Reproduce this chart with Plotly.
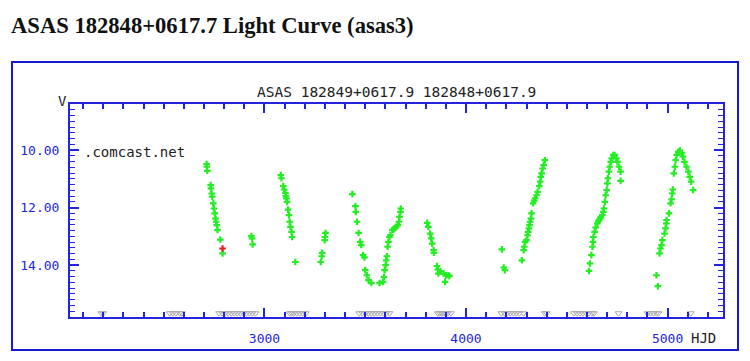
import plotly.graph_objects as go

# ---- data (HJD - 2450000, V mag) ----
good_hjd = [2713, 2714, 2716, 2733, 2734, 2738, 2741, 2746, 2749, 2753, 2757, 2760, 2763, 2767, 2781, 2792,
            2935, 2938, 2941,
            3081, 3084, 3093, 3098, 3104, 3106, 3109, 3112, 3117, 3122, 3125, 3129, 3134, 3137, 3153,
            3303, 3300, 3299, 3286, 3284, 3279,
            3436, 3451, 3453, 3459, 3467, 3475, 3480, 3489, 3496, 3500, 3508, 3516, 3530,
            3571, 3588, 3593, 3596, 3601, 3604, 3607, 3611, 3615, 3620, 3625, 3634, 3640, 3645, 3653, 3662, 3667,
            3670, 3675, 3676,
            3807, 3813, 3822, 3827, 3832, 3839, 3841, 3856, 3860, 3863, 3873, 3889, 3901, 3912, 3917, 3896,
            4178, 4187, 4193,
            4277, 4286, 4289, 4293, 4300, 4305, 4308, 4312, 4315, 4318, 4322, 4325, 4333, 4338, 4343, 4350, 4355,
            4363, 4368, 4371, 4375, 4380, 4385, 4391,
            4610, 4615, 4622, 4627, 4630, 4632, 4638, 4643, 4652, 4657, 4663, 4668, 4676, 4681, 4684, 4689, 4693,
            4698, 4701, 4704, 4709, 4713, 4718, 4723, 4731, 4737, 4746, 4751, 4759, 4767, 4767,
            4945, 4952,
            4960, 4965, 4970, 4974, 4985, 4990, 4994, 4995, 5007, 5015, 5020, 5023, 5026, 5031, 5036, 5040, 5045,
            5053, 5061, 5069, 5076, 5084, 5094, 5103, 5110, 5117, 5127]
good_mag = [10.49, 10.58, 10.72, 11.22, 11.33, 11.51, 11.62, 11.85, 12.03, 12.20, 12.38, 12.49, 12.61, 12.78, 13.11, 13.59,
            12.99, 13.07, 13.28,
            10.87, 10.98, 11.25, 11.37, 11.49, 11.60, 11.68, 11.80, 12.07, 12.26, 12.49, 12.67, 12.84, 13.02, 13.89,
            12.88, 13.02, 13.13, 13.57, 13.69, 13.89,
            11.53, 11.95, 12.15, 12.49, 12.88, 13.19, 13.30, 13.65, 13.73, 14.17, 14.35, 14.52, 14.62,
            14.62, 14.58, 14.41, 14.17, 14.00, 13.83, 13.69, 13.36, 13.19, 13.02, 12.96, 12.78, 12.76, 12.72, 12.67,
            12.61, 12.49, 12.32, 12.15, 12.03,
            12.53, 12.67, 12.90, 13.07, 13.25, 13.48, 13.57, 14.03, 14.15, 14.29, 14.21, 14.29, 14.35, 14.35, 14.38, 14.58,
            13.45, 14.08, 14.17,
            13.83, 13.48, 13.36, 13.19, 13.13, 12.96, 12.84, 12.72, 12.61, 12.49, 12.38, 12.20, 11.85, 11.76, 11.68,
            11.57, 11.45, 11.25, 11.10, 10.93, 10.81, 10.64, 10.52, 10.35,
            14.20, 13.94, 13.65, 13.36, 13.19, 13.02, 12.84, 12.69, 12.55, 12.46, 12.41, 12.34, 12.26, 12.15, 12.03,
            11.80, 11.57, 11.39, 11.16, 10.98, 10.75, 10.58, 10.41, 10.29, 10.17, 10.17, 10.29, 10.41, 10.58, 10.75, 11.07,
            14.35, 14.73,
            13.59, 13.42, 13.30, 13.13, 12.90, 12.72, 12.55, 12.43, 12.20, 11.85, 11.71, 11.51, 11.37, 10.81, 10.58,
            10.35, 10.17, 10.06, 10.02, 10.11, 10.23, 10.41, 10.58, 10.75, 10.93, 11.10, 11.39]

bad_hjd = [2792]
bad_mag = [13.42]

limit_hjd = [2190, 2200, 2530, 2545, 2560, 2580, 2590,
             2775, 2790, 2805, 2820, 2835, 2850, 2865, 2880, 2895, 2910, 2925, 2940, 2955,
             3125, 3135, 3145, 3160, 3175, 3190, 3205,
             3470, 3485, 3500, 3515, 3530, 3545, 3560, 3575, 3590, 3605, 3620,
             3860, 3870, 3880, 3890, 3900, 3910, 3925,
             4175, 4190, 4205, 4220, 4235, 4250, 4265, 4285,
             4390, 4400,
             4535, 4550, 4565, 4580, 4595, 4610, 4625, 4635,
             4757,
             4900, 4915, 4930, 4945, 4955,
             5115]
limit_mag = [15.67, 15.67, 15.67, 15.67, 15.67, 15.67, 15.67,
             15.67, 15.67, 15.67, 15.67, 15.67, 15.67, 15.67, 15.67, 15.67, 15.67, 15.67, 15.67, 15.67,
             15.67, 15.67, 15.67, 15.67, 15.67, 15.67, 15.67,
             15.67, 15.67, 15.67, 15.67, 15.67, 15.67, 15.67, 15.67, 15.67, 15.67, 15.67,
             15.67, 15.67, 15.67, 15.67, 15.67, 15.67, 15.67,
             15.67, 15.67, 15.67, 15.67, 15.67, 15.67, 15.67, 15.67,
             15.67, 15.67,
             15.67, 15.67, 15.67, 15.67, 15.67, 15.67, 15.67, 15.67,
             15.67,
             15.67, 15.67, 15.67, 15.67, 15.67,
             15.67]

x_ticks = [3000, 4000, 5000]
y_ticks = [10, 12, 14]

BLUE = "#2424e0"
MONO = "DejaVu Sans Mono"

fig = go.Figure()
fig.add_trace(go.Scatter(x=limit_hjd, y=limit_mag, mode="markers",
                         marker=dict(symbol="triangle-down-open", size=6, color="#a8a8a8",
                                     line=dict(width=1, color="#a8a8a8")),
                         hoverinfo="skip"))
fig.add_trace(go.Scatter(x=good_hjd, y=good_mag, mode="markers",
                         marker=dict(symbol="cross", size=5.5, color="#22ee22", line=dict(width=0))))
fig.add_trace(go.Scatter(x=bad_hjd, y=bad_mag, mode="markers",
                         marker=dict(symbol="cross", size=5.5, color="#e82020", line=dict(width=0))))

OFF = 8  # page body margin
W, H = 742, 353
# plot area in page pixels: left 70, right 723, top 104, bottom 317
L = 70 - OFF
T = 104 - OFF
R = W - (723 - OFF)
B = H - (317 - OFF)
pw, ph = W - L - R, H - T - B

def px(xp):
    return (xp - OFF - L) / pw

def py(yp):
    return (H - B - (yp - OFF)) / ph

fig.update_layout(
    width=W, height=H,
    margin=dict(l=L, r=R, t=T, b=B, pad=0),
    paper_bgcolor="white", plot_bgcolor="white",
    showlegend=False,
    xaxis=dict(range=[2035, 5275], tickvals=x_ticks, ticktext=[str(v) for v in x_ticks],
               ticks="inside", ticklen=9, tickwidth=2, tickcolor=BLUE,
               minor=dict(dtick=100, tick0=0, ticks="inside", ticklen=5, tickwidth=1.5, tickcolor=BLUE),
               showline=True, linecolor=BLUE, linewidth=2, mirror="ticks",
               showgrid=False, zeroline=False, ticklabelstandoff=8,
               tickfont=dict(family=MONO, size=13, color=BLUE)),
    yaxis=dict(range=[15.8, 8.4], tickvals=y_ticks, ticktext=["%.2f" % v for v in y_ticks],
               ticks="inside", ticklen=9, tickwidth=2, tickcolor=BLUE,
               minor=dict(dtick=0.2, tick0=0, ticks="inside", ticklen=5, tickwidth=1, tickcolor=BLUE),
               showline=True, linecolor=BLUE, linewidth=2, mirror="ticks",
               showgrid=False, zeroline=False, ticklabelstandoff=6,
               tickfont=dict(family=MONO, size=13, color=BLUE)),
    shapes=[dict(type="rect", xref="paper", yref="paper",
                 x0=px(12), x1=px(738), y0=py(350), y1=py(62),
                 line=dict(color="#1818d8", width=2), fillcolor="rgba(0,0,0,0)", layer="below")],
    annotations=[
        dict(text="<b>ASAS 182848+0617.7 Light Curve (asas3)</b>", xref="paper", yref="paper",
             x=px(9), y=py(25), xanchor="left", yanchor="middle", showarrow=False,
             font=dict(family="Liberation Serif", size=22.6, color="#111")),
        dict(text="ASAS 182849+0617.9 182848+0617.9", xref="paper", yref="paper",
             x=px(396), y=py(92), xanchor="center", yanchor="middle", showarrow=False,
             font=dict(family=MONO, size=14.5, color="#222")),
        dict(text="V", xref="paper", yref="paper",
             x=px(62), y=py(101), xanchor="center", yanchor="middle", showarrow=False,
             font=dict(family=MONO, size=14, color="#222")),
        dict(text=".comcast.net", xref="paper", yref="paper",
             x=px(82), y=py(152), xanchor="left", yanchor="middle", showarrow=False,
             font=dict(family=MONO, size=14, color="#222")),
        dict(text="HJD", xref="paper", yref="paper",
             x=px(689), y=py(338), xanchor="left", yanchor="middle", showarrow=False,
             font=dict(family=MONO, size=14, color="#222")),
    ],
)

fig.write_html("out.html")
